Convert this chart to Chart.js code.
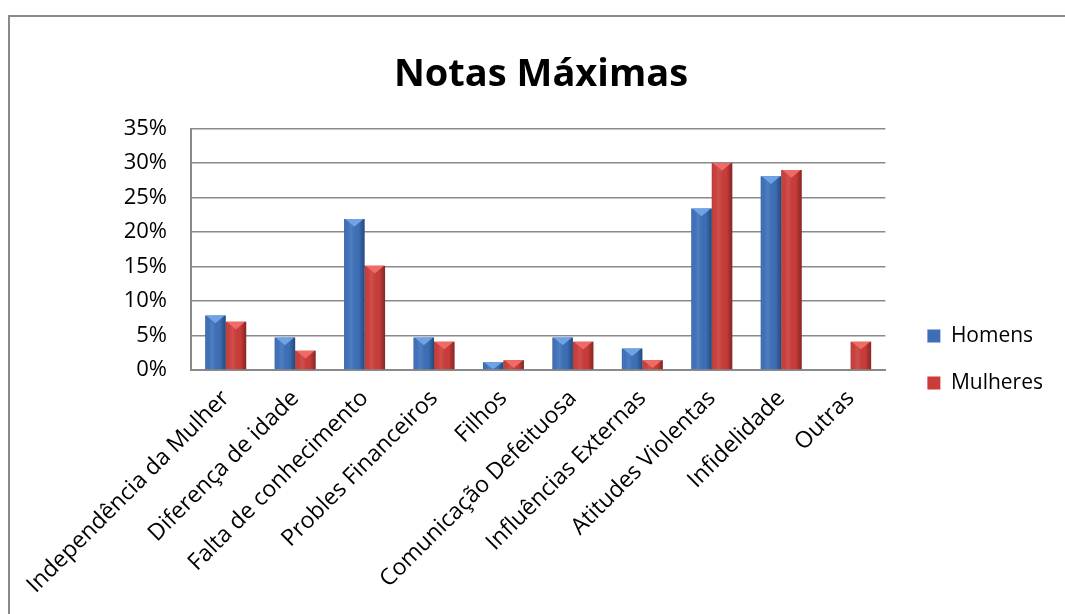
<!DOCTYPE html>
<html><head><meta charset="utf-8">
<script src="https://cdn.jsdelivr.net/npm/chart.js@4.4.1/dist/chart.umd.min.js"></script>
<style>html,body{margin:0;padding:0;background:#fff;overflow:hidden}</style>
</head><body>
<canvas id="c" width="1065" height="614"></canvas>
<script>
const categories = ["Independência da Mulher","Diferença de idade","Falta de conhecimento","Probles Financeiros","Filhos","Comunicação Defeituosa","Influências Externas","Atitudes Violentas","Infidelidade","Outras"];
const homens   = [7.9, 4.7, 21.9, 4.7, 1.1, 4.7, 3.1, 23.4, 28.1, 0];
const mulheres = [7.0, 2.8, 15.1, 4.1, 1.4, 4.1, 1.4, 30.0, 29.0, 4.1];
const seriesNames = ["Homens","Mulheres"];
const yMax = 35, yStep = 5;
const titleText = "Notas Máximas";

const FONT = "'Open Sans', 'Liberation Sans', sans-serif";

const frame = {
  id:'frame',
  beforeDraw(chart){
    const ctx = chart.ctx;
    ctx.save();
    ctx.strokeStyle = '#8a8a8a'; ctx.lineWidth = 2;
    ctx.beginPath(); ctx.moveTo(9, chart.height); ctx.lineTo(9, 16); ctx.lineTo(chart.width, 16); ctx.stroke();
    ctx.restore();
  }
};

const bevel = {
  id:'bevel',
  afterDatasetsDraw(chart){
    const ctx = chart.ctx;
    chart.data.datasets.forEach((ds,i)=>{
      const meta = chart.getDatasetMeta(i);
      meta.data.forEach(bar=>{
        const {x,y,base,width} = bar.getProps(['x','y','base','width'], true);
        const h = base - y; if (h <= 0.5) return;
        const l = x - width/2, r = x + width/2;
        ctx.save();
        const g = ctx.createLinearGradient(l,0,r,0);
        g.addColorStop(0,'rgba(0,0,0,0.22)');
        g.addColorStop(0.12,'rgba(255,255,255,0.0)');
        g.addColorStop(0.35,'rgba(255,255,255,0.10)');
        g.addColorStop(0.7,'rgba(0,0,0,0.0)');
        g.addColorStop(1,'rgba(0,0,0,0.35)');
        ctx.fillStyle = g; ctx.fillRect(l,y,width,h);
        const d = Math.min(width*0.38, h);
        ctx.beginPath(); ctx.moveTo(l+1,y); ctx.lineTo(r-1,y); ctx.lineTo(x, y+d); ctx.closePath();
        ctx.fillStyle = ds.capColor; ctx.fill();
        ctx.restore();
      });
    });
  }
};

new Chart(document.getElementById('c'), {
  type:'bar',
  data:{
    labels: categories,
    datasets:[
      {label: seriesNames[0], data: homens, backgroundColor:'#3c6fb8', capColor:'#6ea3e6', borderWidth:0, categoryPercentage:0.59, barPercentage:1},
      {label: seriesNames[1], data: mulheres, backgroundColor:'#c93c39', capColor:'#f06a66', borderWidth:0, categoryPercentage:0.59, barPercentage:1}
    ]
  },
  options:{
    responsive:false, animation:false,
    layout:{padding:{left:29, right:12, top:20, bottom:0}},
    plugins:{
      title:{display:true, text:titleText, color:'#000', font:{family:FONT, size:38, weight:'bold'}, padding:{top:32, bottom:31}},
      legend:{position:'right', align:'center',
        title:{display:true, text:'', padding:{top:84, bottom:0}, font:{size:1}},
        labels:{color:'#000', font:{family:FONT, size:21}, boxWidth:13, boxHeight:13, padding:26}},
      tooltip:{enabled:false}
    },
    scales:{
      x:{grid:{display:false, drawTicks:false}, border:{display:true, color:'#8a8a8a', width:2},
         ticks:{color:'#000', font:{family:FONT, size:23}, maxRotation:45, minRotation:45, padding:15, autoSkip:false}},
      y:{min:0, max:yMax, grid:{color:'#8a8a8a', lineWidth:1.5, drawTicks:false}, border:{display:true, color:'#8a8a8a', width:2},
         ticks:{stepSize:yStep, color:'#000', font:{family:FONT, size:22}, padding:24, callback:v=>v+'%'},
         afterFit(s){ s.width = 162; }},
      gap:{position:'right', display:true, grid:{display:false, drawTicks:false}, border:{display:false}, ticks:{display:false},
           afterFit(s){ s.width = 16; }}
    }
  },
  plugins:[frame, bevel]
});
</script>
</body></html>
